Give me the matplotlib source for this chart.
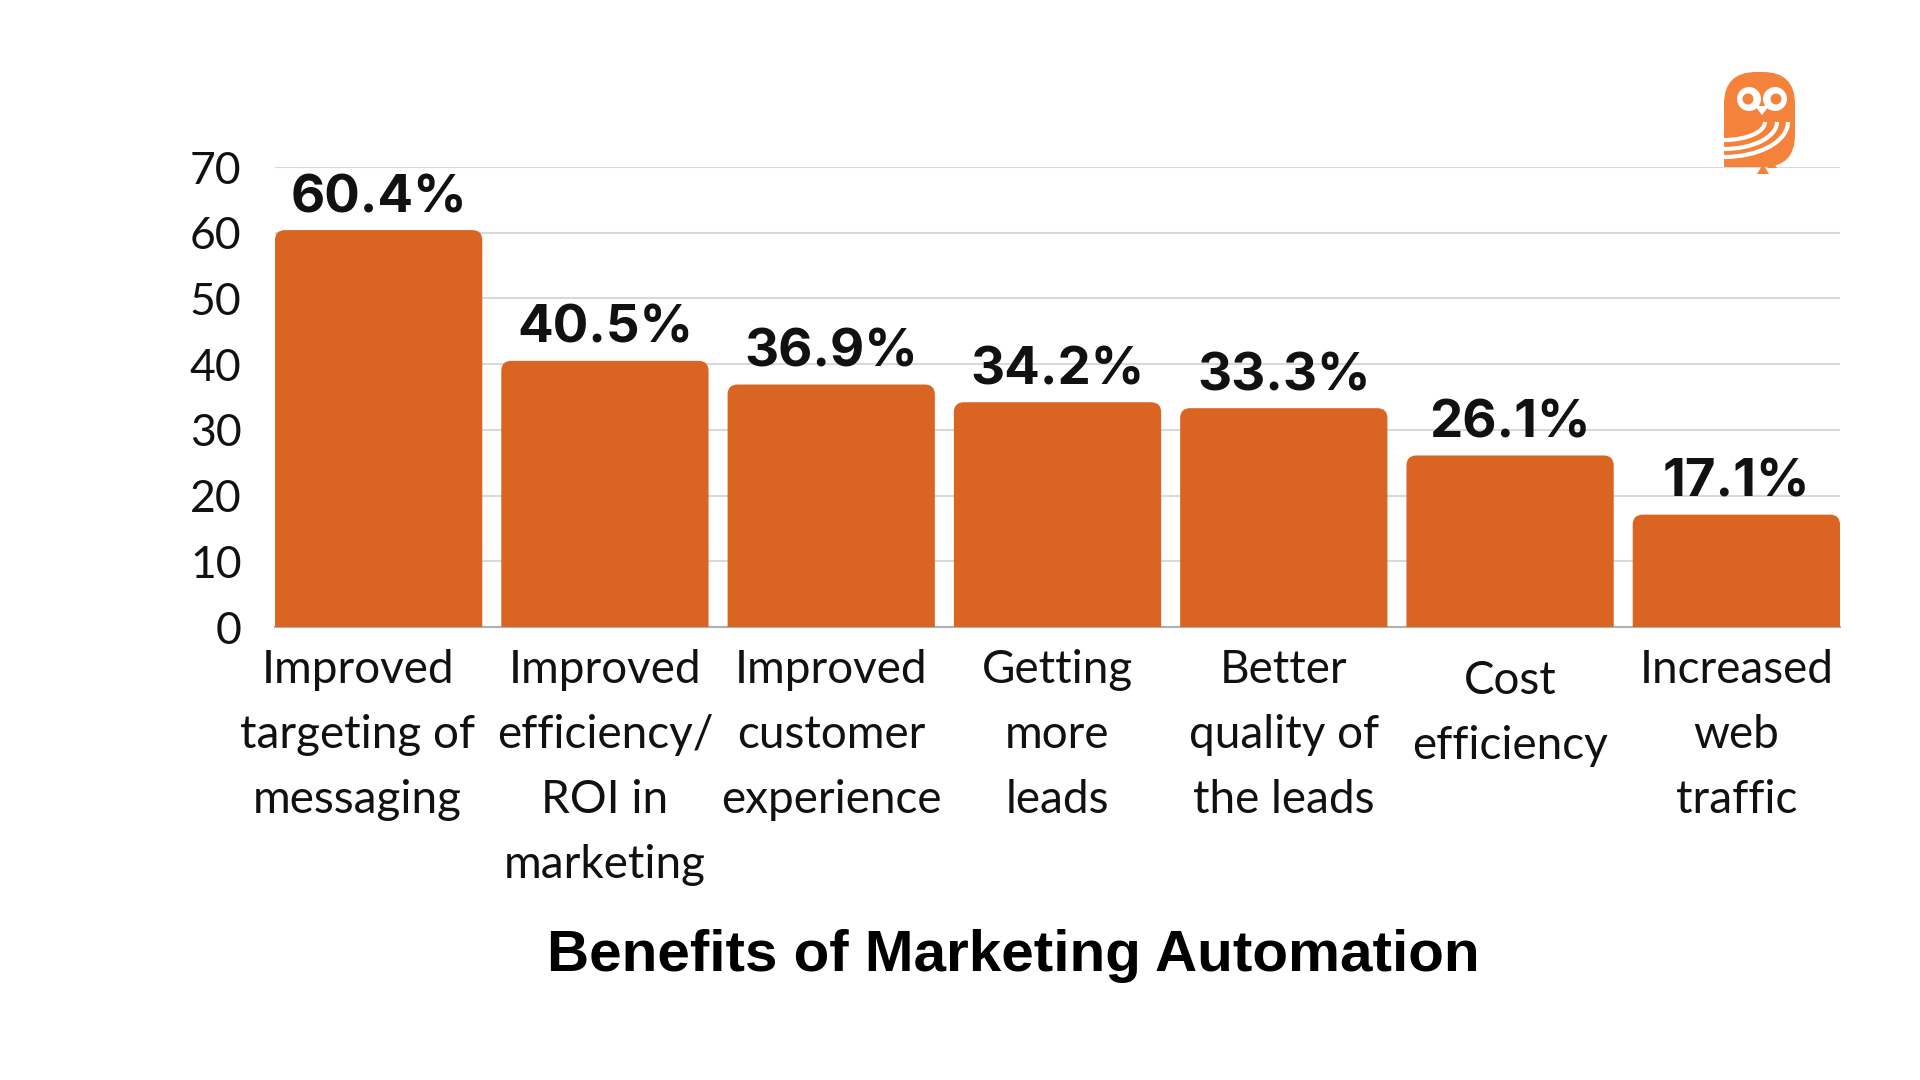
import numpy as np
import matplotlib.pyplot as plt
import matplotlib.transforms as mtransforms
from matplotlib.patches import FancyBboxPatch, Circle, Arc, Polygon, Rectangle

# chart data
categories = [
    "Improved\ntargeting of\nmessaging",
    "Improved\nefficiency/\nROI in\nmarketing",
    "Improved\ncustomer\nexperience",
    "Getting\nmore\nleads",
    "Better\nquality of\nthe leads",
    "Cost\nefficiency",
    "Increased\nweb\ntraffic",
]
values = [60.4, 40.5, 36.9, 34.2, 33.3, 26.1, 17.1]
value_labels = ["60.4%", "40.5%", "36.9%", "34.2%", "33.3%", "26.1%", "17.1%"]
y_ticks = [0, 10, 20, 30, 40, 50, 60, 70]
title = "Benefits of Marketing Automation"

bar_color = "#DA6522"
logo_color = "#F5823A"
W, H = 1920, 1080

plt.rcParams["font.family"] = ["Lato", "DejaVu Sans"]

fig = plt.figure(figsize=(19.2, 10.8), dpi=100)
fig.patch.set_facecolor("white")

# axes placed in pixel terms
left, right, top, bottom = 275, 1840, 167, 627
ax = fig.add_axes([left / W, 1 - bottom / H, (right - left) / W, (bottom - top) / H])

x = np.arange(len(values))
bar_w = 0.916
ax.set_xlim(-bar_w / 2, len(values) - 1 + bar_w / 2)
ax.set_ylim(0, 70)

# rounded top corners: radius in px converted to data units
px_x = (right - left) / (ax.get_xlim()[1] - ax.get_xlim()[0])
px_y = (bottom - top) / 70
rad = 10
rx, ry = rad / px_x, rad / px_y
for xi, v in zip(x, values):
    p = FancyBboxPatch((xi - bar_w / 2, -ry * 2), bar_w, v + ry * 2,
                       boxstyle=f"round,pad=0,rounding_size={rx}",
                       mutation_aspect=ry / rx, facecolor=bar_color,
                       edgecolor="none", zorder=3)
    ax.add_patch(p)

for xi, v, lab in zip(x, values, value_labels):
    ax.text(xi, v + 18 / px_y, lab, ha="center", va="baseline", fontsize=38,
            fontweight="bold", family=["Inter", "DejaVu Sans"],
            color="#111111", zorder=5)

# category labels under the bars (first one sits a bit left, "Cost" a bit lower)
trans = mtransforms.blended_transform_factory(ax.transData, ax.transAxes)
for i, (xi, cat) in enumerate(zip(x, categories)):
    dx = -21 / px_x if i == 0 else 0
    dy = -11 / (bottom - top) if cat.startswith("Cost") else 0
    ax.text(xi + dx, -22 / (bottom - top) + dy, cat, transform=trans,
            ha="center", va="top", multialignment="center", fontsize=33,
            linespacing=1.68, color="#111111")

ax.set_yticks(y_ticks)
ax.set_yticklabels([str(t) for t in y_ticks])
ax.set_xticks([])
ax.tick_params(axis="y", length=0, pad=24, labelsize=32, labelcolor="#111111")
ax.yaxis.grid(True, color="#D9D9D9", linewidth=1.5, zorder=0)
ax.set_axisbelow(True)
for s in ["top", "right", "left"]:
    ax.spines[s].set_visible(False)
ax.spines["bottom"].set_color("#B0B0B0")
ax.spines["bottom"].set_linewidth(1.5)

fig.text(1013 / W, 1 - 956 / H, title, ha="center", va="center",
         fontsize=42, fontweight="bold", family=["Liberation Sans", "DejaVu Sans"],
         color="#000000")

# owl logo, drawn in pixel coords
lax = fig.add_axes([1710 / W, 1 - 180 / H, 100 / W, 120 / H])
lax.set_xlim(1710, 1810)
lax.set_ylim(180, 60)
lax.axis("off")
lax.add_patch(FancyBboxPatch((1724, 72), 71, 95, boxstyle="round,pad=0,rounding_size=32",
                             facecolor=logo_color, edgecolor="none"))
lax.add_patch(Rectangle((1724, 125), 35, 42, facecolor=logo_color, edgecolor="none"))
lax.add_patch(Circle((1749, 99), 12, facecolor="white", edgecolor="none"))
lax.add_patch(Circle((1775, 99), 12, facecolor="white", edgecolor="none"))
lax.add_patch(Polygon([[1755, 106], [1769, 106], [1762, 115]], facecolor="white",
                      edgecolor="none"))
lax.add_patch(Circle((1748, 99), 5.5, facecolor=logo_color, edgecolor="none"))
lax.add_patch(Circle((1776, 99), 5.5, facecolor=logo_color, edgecolor="none"))
for rw, rh in [(41, 18), (53, 27), (64, 35)]:
    lax.add_patch(Arc((1724, 122), 2 * rw, 2 * rh, theta1=0, theta2=90,
                      color="white", linewidth=3))
lax.add_patch(Polygon([[1757, 174], [1763, 164], [1769, 174]], facecolor=logo_color,
                      edgecolor="none"))
lax.add_patch(Polygon([[1767, 168], [1772, 160], [1777, 168]], facecolor=logo_color,
                      edgecolor="none"))

fig.savefig("out.png", dpi=100, facecolor="white")
